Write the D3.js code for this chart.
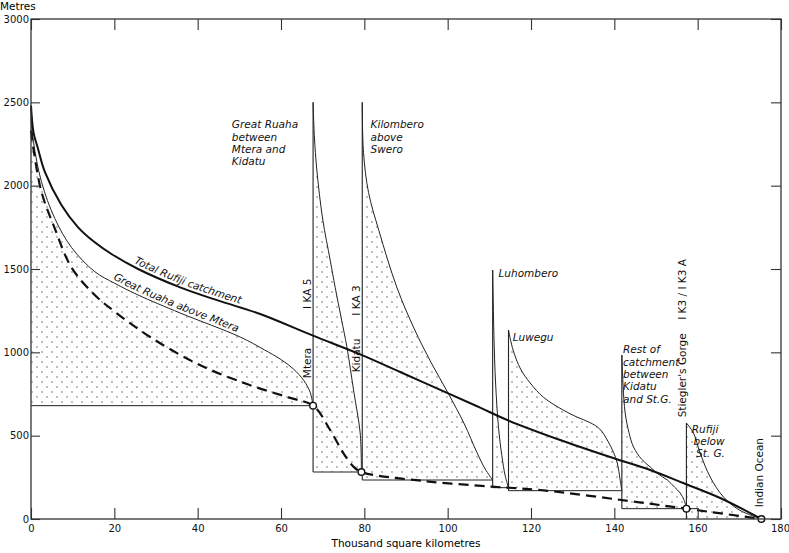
<!DOCTYPE html>
<html>
<head>
<meta charset="utf-8">
<script src="https://cdn.jsdelivr.net/npm/d3@7"></script>
<style>
  body { margin: 0; background: #fff; }
  svg { display: block; font-family: "DejaVu Sans", sans-serif; }
  .axis text { font-size: 10px; fill: #111; }
  .axis line { stroke: #333; stroke-width: 1.1; }
  .lab { font-size: 10.5px; font-style: italic; fill: #111; }
  .vlab { font-size: 10.5px; fill: #111; }
</style>
</head>
<body>
<svg id="chart" width="789" height="553"></svg>
<script>
// tick values
const xTicks = [0, 20, 40, 60, 80, 100, 120, 140, 160, 180];
const yTicks = [0, 500, 1000, 1500, 2000, 2500, 3000];

// [thousand km2, metres]
const totalRufiji = [[0, 2480], [0.6, 2320], [1.7, 2220], [3.3, 2084], [7.3, 1884], [11.3, 1750], [15.3, 1660],
  [19.3, 1590], [25.7, 1500], [35.8, 1390], [45, 1310], [55, 1230], [67.7, 1100], [79.3, 985], [88.6, 882],
  [100, 755], [107.8, 668], [114.5, 592], [127, 474], [139.7, 366], [148.6, 294], [156.5, 216], [165.4, 126], [175.3, 0]];
const ruahaAboveMtera = [[0, 2400], [0.6, 2260], [2.5, 2024], [5.7, 1804], [9.7, 1630], [15.3, 1484], [20.1, 1414],
  [25.7, 1344], [35.8, 1236], [50.2, 1092], [56, 1015], [59.8, 960], [63, 900], [65.5, 830], [67, 760], [67.7, 680]];
const mainStem = [[0, 2330], [0.6, 2220], [2.5, 1964], [5.7, 1744], [9.7, 1510], [15.3, 1344], [20.1, 1244],
  [28.6, 1092], [40, 930], [52, 808], [62, 728], [67.7, 680], [71.8, 534],
  [75, 394], [77.4, 314], [79.3, 282], [94.2, 228], [110.6, 194], [122.2, 174], [146, 100], [157.3, 62], [175.3, 0]];

// tributary curves, each starting at the top of its vertical line
const ruahaMteraKidatu = [[67.7, 2500], [68, 2300], [68.6, 2094], [70, 1800], [71.8, 1554], [73, 1390],
  [74.5, 1200], [75.8, 1034], [77.5, 760], [79, 516], [79.3, 282]];
const kilombero = [[79.5, 2500], [79.8, 2200], [81, 1960], [83.5, 1730], [87.8, 1390], [92, 1140], [96, 940],
  [100, 760], [104, 570], [107, 400], [109, 300], [110.8, 234]];
const luhombero = [[110.8, 1494], [111.1, 1100], [111.5, 816], [112.2, 550], [113, 380], [113.8, 260], [114.6, 188]];
const luwegu = [[114.6, 1134], [115.7, 1014], [117.5, 900], [119.8, 816], [123, 730], [127.7, 654], [131, 612],
  [134.2, 578], [136.5, 540], [138.3, 474], [139.8, 400], [140.7, 336], [141.4, 234], [141.8, 170]];
const restCatchment = [[141.8, 984], [142.1, 800], [142.6, 636], [143.5, 520], [144.6, 432], [146.5, 360],
  [148.6, 312], [150.5, 270], [152.7, 234], [154.5, 190], [155.8, 156], [156.8, 110], [157.3, 62]];
const rufijiBelow = [[157.3, 576], [159, 516], [160.6, 396], [163, 252], [166.2, 132], [170, 54], [175.3, 0]];

// base elevation of each stippled block and where its bottom edge ends
const blocks = [
  { curve: ruahaAboveMtera, base: 680, x0: 0, x1: 67.7, edge: false },
  { curve: ruahaMteraKidatu, base: 282, x0: 67.7, x1: 79.3, edge: true },
  { curve: kilombero, base: 234, x0: 79.5, x1: 110.8, edge: true },
  { curve: luhombero, base: 188, x0: 110.8, x1: 114.6, edge: true },
  { curve: luwegu, base: 170, x0: 114.6, x1: 141.8, edge: true },
  { curve: restCatchment, base: 62, x0: 141.8, x1: 160.2, edge: true },
  { curve: rufijiBelow, base: 0, x0: 157.3, x1: 157.3, edge: true }
];
const stations = [[67.7, 680], [79.3, 282], [157.3, 62], [175.3, 0]];

const width = 789, height = 553;
const margin = { top: 19, right: 8, bottom: 34, left: 31 };

const svg = d3.select("#chart");
const xScale = d3.scaleLinear().domain([0, 180]).range([margin.left, width - margin.right]);
const yScale = d3.scaleLinear().domain([0, 3000]).range([height - margin.bottom, margin.top]);

// stipple
const defs = svg.append("defs");
const pat = defs.append("pattern").attr("id", "dots").attr("patternUnits", "userSpaceOnUse")
  .attr("width", 10).attr("height", 10);
pat.append("circle").attr("cx", 2).attr("cy", 2).attr("r", 0.65).attr("fill", "#444");
pat.append("circle").attr("cx", 7).attr("cy", 7).attr("r", 0.65).attr("fill", "#444");

const curve = d3.curveCatmullRom.alpha(0.5);
const line = d3.line().x(d => xScale(d[0])).y(d => yScale(d[1])).curve(curve);

const g = svg.append("g");

blocks.forEach(b => {
  const area = d3.area().x(d => xScale(d[0])).y0(yScale(b.base)).y1(d => yScale(d[1])).curve(curve);
  g.append("path").attr("d", area(b.curve)).attr("fill", "url(#dots)");
});

blocks.forEach(b => {
  g.append("path").attr("d", line(b.curve)).attr("fill", "none").attr("stroke", "#222").attr("stroke-width", 1);
  g.append("line")
    .attr("x1", xScale(b.x0)).attr("x2", xScale(b.x1))
    .attr("y1", yScale(b.base)).attr("y2", yScale(b.base))
    .attr("stroke", "#222").attr("stroke-width", 1);
  if (b.edge) {
    g.append("line")
      .attr("x1", xScale(b.x0)).attr("x2", xScale(b.x0))
      .attr("y1", yScale(b.base)).attr("y2", yScale(b.curve[0][1]))
      .attr("stroke", "#222").attr("stroke-width", 1.1);
  }
});

const totalPath = g.append("path").attr("d", line(totalRufiji)).attr("fill", "none")
  .attr("stroke", "#111").attr("stroke-width", 2).attr("id", "total-path");
const ruahaPath = g.append("path").attr("d", line(ruahaAboveMtera))
  .attr("fill", "none").attr("stroke", "none").attr("id", "ruaha-path");

g.append("path").attr("d", line(mainStem)).attr("fill", "none")
  .attr("stroke", "#111").attr("stroke-width", 2.2).attr("stroke-dasharray", "10,6");

g.selectAll("circle.st").data(stations).join("circle").attr("class", "st")
  .attr("cx", d => xScale(d[0])).attr("cy", d => yScale(d[1])).attr("r", 3.3)
  .attr("fill", "#fff").attr("stroke", "#111").attr("stroke-width", 1.4);

// axes
const xAxis = d3.axisBottom(xScale).tickValues(xTicks).tickSize(-11).tickSizeOuter(0).tickPadding(5.5);
const yAxis = d3.axisLeft(yScale).tickValues(yTicks).tickSize(-9).tickSizeOuter(0).tickPadding(2)
  .tickFormat(d3.format("d"));
const gx = svg.append("g").attr("class", "axis").attr("transform", `translate(0,${yScale(0)})`).call(xAxis);
const gy = svg.append("g").attr("class", "axis").attr("transform", `translate(${xScale(0)},0)`).call(yAxis);
const gt = svg.append("g").attr("class", "axis").attr("transform", `translate(0,${yScale(3000)})`)
  .call(d3.axisTop(xScale).tickValues(xTicks).tickSize(-11).tickSizeOuter(0).tickFormat(""));
const gr = svg.append("g").attr("class", "axis").attr("transform", `translate(${xScale(180)},0)`)
  .call(d3.axisRight(yScale).tickValues(yTicks).tickSize(-10).tickSizeOuter(0).tickFormat(""));
[gx, gy, gt, gr].forEach(a => a.select(".domain").remove());
gx.selectAll("text").attr("font-family", "DejaVu Sans");
gy.selectAll("text").attr("font-family", "DejaVu Sans");
// last label sits against the right edge
gx.selectAll("text").filter(d => d === 180).attr("text-anchor", "end").attr("dx", 8.5);

svg.append("rect").attr("x", xScale(0)).attr("y", yScale(3000))
  .attr("width", xScale(180) - xScale(0)).attr("height", yScale(0) - yScale(3000))
  .attr("fill", "none").attr("stroke", "#333").attr("stroke-width", 1.3);

svg.append("text").attr("x", 0).attr("y", 10).attr("font-size", 10.5).text("Metres");
svg.append("text").attr("x", (xScale(0) + xScale(180)) / 2).attr("y", 547).attr("text-anchor", "middle")
  .attr("font-size", 10.5).text("Thousand square kilometres");

// italic block labels: [x, y, lines]
const blockLabels = [
  [48.2, 2345, ["Great Ruaha", "between", "Mtera and", "Kidatu"]],
  [81.5, 2345, ["Kilombero", "above", "Swero"]],
  [112.2, 1450, ["Luhombero"]],
  [115.6, 1070, ["Luwegu"]],
  [142.1, 995, ["Rest of", "catchment", "between", "Kidatu", "and St.G."]],
  [158.6, 515, ["Rufiji"]],
  [159.0, 445, ["below"]],
  [159.6, 375, ["St. G."]]
];
blockLabels.forEach(([vx, vy, lines]) => {
  const t = svg.append("text").attr("class", "lab").attr("x", xScale(vx)).attr("y", yScale(vy));
  lines.forEach((s, i) => t.append("tspan").attr("x", xScale(vx)).attr("dy", i ? 12.4 : 0).text(s));
});

// vertical labels: [x, y at start, text]
const vLabels = [
  [67.3, 845, "Mtera"], [67.3, 1260, "I KA 5"],
  [79.0, 880, "Kidatu"], [79.0, 1220, "I KA 3"],
  [157.2, 610, "Stiegler's Gorge"], [157.2, 1195, "I K3 / I K3 A"],
  [175.6, 70, "Indian Ocean"]
];
vLabels.forEach(([vx, vy, s]) => {
  svg.append("text").attr("class", "vlab")
    .attr("transform", `translate(${xScale(vx)},${yScale(vy)}) rotate(-90)`).text(s);
});

// text along curves
function offsetAtX(node, px) {
  let lo = 0, hi = node.getTotalLength();
  for (let i = 0; i < 40; i++) {
    const mid = (lo + hi) / 2;
    if (node.getPointAtLength(mid).x < px) lo = mid; else hi = mid;
  }
  return lo;
}
svg.append("text").attr("class", "lab").attr("dy", -3.5)
  .append("textPath").attr("href", "#total-path")
  .attr("startOffset", offsetAtX(totalPath.node(), xScale(24.3)))
  .text("Total Rufiji catchment");
svg.append("text").attr("class", "lab").attr("dy", -3)
  .append("textPath").attr("href", "#ruaha-path")
  .attr("startOffset", offsetAtX(ruahaPath.node(), xScale(19.3)))
  .text("Great Ruaha above Mtera");
</script>
</body>
</html>
